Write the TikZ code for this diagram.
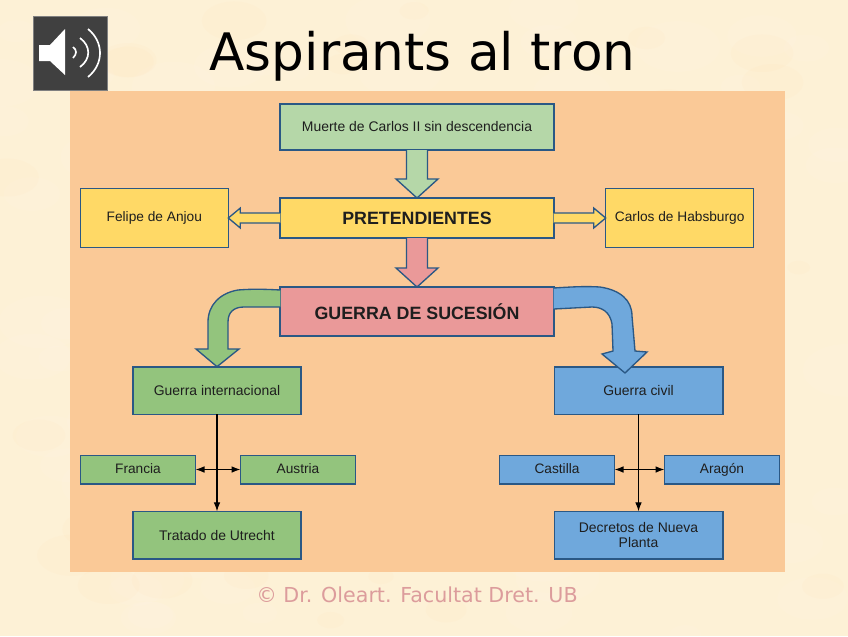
\documentclass[tikz,border=0pt]{standalone}
\usepackage{fontspec}
\setmainfont{Liberation Sans}
\newfontfamily\slidefont{DejaVu Sans}
\usetikzlibrary{arrows.meta,positioning,calc}
\definecolor{paper}{HTML}{FDF1D6}
\definecolor{panel}{HTML}{FAC997}
\definecolor{edge}{HTML}{2A5885}
\definecolor{palegreen}{HTML}{B5D7A8}
\definecolor{amber}{HTML}{FFD966}
\definecolor{rose}{HTML}{EA9999}
\definecolor{leaf}{HTML}{93C47D}
\definecolor{sky}{HTML}{6FA8DC}
\definecolor{speaker}{HTML}{404040}
\definecolor{footer}{HTML}{DC9C9C}
\definecolor{ink}{HTML}{1E1E1E}
\tikzset{
  headbox/.style={draw=edge, line width=0.05cm, align=center, outer sep=0pt, text=ink,
                  inner sep=1pt, minimum width=8.2cm, font=\fontsize{11.9}{13}\selectfont},
  sidebox/.style={draw=edge, line width=0.04cm, align=center, outer sep=0pt, inner sep=1pt, text=ink,
                  fill=amber, minimum width=4.44cm, minimum height=1.77cm,
                  font=\fontsize{11.7}{13}\selectfont},
  warbox/.style={draw=edge, line width=0.05cm, align=center, outer sep=0pt, inner sep=1pt, text=ink,
                 minimum width=5.05cm, minimum height=1.43cm,
                 font=\fontsize{11.9}{12.7}\selectfont},
  partybox/.style={draw=edge, line width=0.05cm, align=center, outer sep=0pt, inner sep=1pt, text=ink,
                   minimum width=3.45cm, minimum height=0.85cm, text height=1.6ex, text depth=0.4ex,
                   font=\fontsize{11.7}{13}\selectfont},
  blockarrow/.style={draw=edge, line width=0.04cm, line join=miter},
  thinarrow/.style={-{Latex[length=0.27cm,width=0.2cm]}, black, line width=0.035cm},
  botharrow/.style={{Latex[length=0.27cm,width=0.2cm]}-{Latex[length=0.27cm,width=0.2cm]},
                    black, line width=0.035cm}
}
\newcommand{\downblock}[3]{%
  \draw[blockarrow, fill=#3] ($(#1.south)+(-10.5,0)$) |- ($(#2.north)+(-10.5,-19)$)
    -- ($(#2.north)+(-21,-19)$) -- (#2.north) -- ($(#2.north)+(21,-19)$)
    -- ($(#2.north)+(10.5,-19)$) |- ($(#1.south)+(10.5,0)$);}
\begin{document}
\begin{tikzpicture}[x=0.03cm, y=-0.03cm]
  \useasboundingbox (0,0) rectangle (848,636);
  \fill[paper] (0,0) rectangle (848,636);
  % mottled paper
  \pgfmathsetseed{7}
  \begin{scope}
    \clip (0,0) rectangle (848,636);
    \foreach \i in {1,...,90} {
      \pgfmathsetmacro{\px}{rnd*848}
      \pgfmathsetmacro{\py}{rnd*636}
      \pgfmathsetmacro{\pr}{15+rnd*30}
      \fill[white, opacity=0.07] (\px,\py) ellipse [x radius=\pr, y radius=0.6*\pr];
    }
    \foreach \i in {1,...,50} {
      \pgfmathsetmacro{\px}{rnd*848}
      \pgfmathsetmacro{\py}{rnd*636}
      \pgfmathsetmacro{\pr}{10+rnd*25}
      \fill[orange!30!paper, opacity=0.05] (\px,\py) ellipse [x radius=\pr, y radius=0.6*\pr];
    }
  \end{scope}
  \fill[panel] (70,91) rectangle (785,572);
  % title and footer
  \node[font=\slidefont\fontsize{44.1}{50}\selectfont, inner sep=0pt, text=black] (title) at (422.5,56) {Aspirants al tron};
  \node[font=\slidefont\fontsize{17.6}{20}\selectfont, text=footer, inner sep=0pt] (credit) at (417,595) {© Dr. Oleart. Facultat Dret. UB};
  % speaker icon
  \node[fill=speaker, draw=gray, line width=0.02cm, minimum size=2.22cm, inner sep=0pt] (icon) at (70,53) {};
  \fill[white] (39,45) -- (50,45) -- (65,29) -- (65,75) -- (50,61) -- (39,61) -- cycle;
  \draw[white, line width=0.05cm] (73,47) .. controls (77,50) and (77,54) .. (73,58);
  \draw[white, line width=0.05cm] (80,38) .. controls (91,46) and (91,59) .. (80,67);
  \draw[white, line width=0.05cm] (88,29) .. controls (104,42) and (104,64) .. (88,77);
  % top row
  \node[headbox, fill=palegreen, minimum height=1.38cm] (death) at (417,127) {Muerte de Carlos II sin descendencia};
  \node[headbox, fill=amber, minimum height=1.2cm, below=1.44cm of death, font=\bfseries\fontsize{15.2}{17}\selectfont] (claim) {PRETENDIENTES};
  \node[sidebox, left=1.56cm of claim] (felipe) {Felipe de Anjou};
  \node[sidebox, right=1.56cm of claim] (carlos) {Carlos de Habsburgo};
  \node[headbox, fill=rose, minimum height=1.47cm, below=1.47cm of claim, font=\bfseries\fontsize{15.2}{17}\selectfont] (war) {GUERRA DE SUCESIÓN};
  % war branches
  \node[warbox, fill=leaf] (intl) at (217,390.5) {Guerra internacional};
  \node[warbox, fill=sky] (civil) at (638.5,390.5) {Guerra civil};
  \node[partybox, fill=leaf] (francia) at (138,469.5) {Francia};
  \node[partybox, fill=leaf] (austria) at (298,469.5) {Austria};
  \node[partybox, fill=sky] (castilla) at (557,469.5) {Castilla};
  \node[partybox, fill=sky] (aragon) at (722,469.5) {Aragón};
  \node[warbox, fill=leaf, below=2.91cm of intl] (utrecht) {Tratado de Utrecht};
  \node[warbox, fill=sky, below=2.91cm of civil] (decretos) {Decretos de Nueva\\Planta};
  % block arrows
  \downblock{death}{claim}{palegreen}
  \downblock{claim}{war}{rose}
  \draw[blockarrow, fill=amber] ($(claim.west)+(0,-5)$) -- ($(felipe.east)+(12,-5)$) -- ($(felipe.east)+(12,-10)$)
    -- (felipe.east) -- ($(felipe.east)+(12,10)$) -- ($(felipe.east)+(12,5)$) -- ($(claim.west)+(0,5)$);
  \draw[blockarrow, fill=amber] ($(claim.east)+(0,-5)$) -- ($(carlos.west)+(-12,-5)$) -- ($(carlos.west)+(-12,-10)$)
    -- (carlos.west) -- ($(carlos.west)+(-12,10)$) -- ($(carlos.west)+(-12,5)$) -- ($(claim.east)+(0,5)$);
  \draw[blockarrow, fill=leaf] (war.north west |- 0,290) .. controls (262,289) and (250,289) .. (238,290)
    .. controls (220,293) and (208,305) .. (208,322) -- (208,349) -- (196,349) -- (intl.north) -- (239,349) -- (228,349)
    -- (228,322) .. controls (228,312) and (234,307) .. (244,307) -- (war.north west |- 0,307);
  \draw[blockarrow, fill=sky] (war.north east |- 0,288) .. controls (570,287) and (585,286) .. (600,287)
    .. controls (620,290) and (632,300) .. (632,316) -- (635,351) -- (647,352) -- (625,373) -- (602,354) -- (613,351)
    -- (612,324) .. controls (610,312) and (602,307) .. (592,307) -- (war.north east |- 0,309);
  % thin arrows
  \draw[thinarrow] (intl) -- (utrecht);
  \draw[thinarrow] (civil) -- (decretos);
  \draw[botharrow] (francia) -- (austria);
  \draw[botharrow] (castilla) -- (aragon);
\end{tikzpicture}
\end{document}
